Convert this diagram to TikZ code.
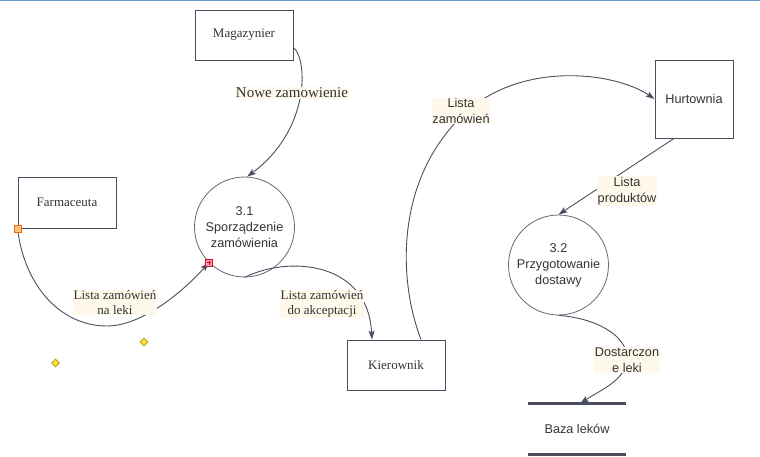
\documentclass[tikz,border=0pt]{standalone}
\usepackage{fontspec}
\setmainfont{Liberation Serif}
\setsansfont{Liberation Sans}
\usetikzlibrary{arrows.meta,calc,shapes.geometric}
\definecolor{ln}{HTML}{4A4E5E}
\definecolor{lbg}{HTML}{FFF9EC}
\definecolor{txt}{HTML}{333333}
\definecolor{topblue}{HTML}{6A96C8}
\definecolor{orbord}{HTML}{E8700A}
\definecolor{orfill}{HTML}{FFC27A}
\definecolor{rdbord}{HTML}{D0102A}
\definecolor{rdfill}{HTML}{FF9AAA}
\definecolor{ylfill}{HTML}{FFE040}
\definecolor{ylbord}{HTML}{B89400}
\begin{document}
\begin{tikzpicture}[x=1pt,y=-1pt,
  extbox/.style={draw=ln, line width=0.9pt, minimum width=98pt, minimum height=50pt,
    inner sep=0pt, text=txt, font=\fontsize{13}{15}\selectfont},
  procc/.style={circle, draw=ln!85, line width=0.8pt, minimum size=100pt, inner sep=0pt,
    align=center, text=txt, font=\sffamily\fontsize{12.7}{16}\selectfont},
  flow/.style={draw=ln, line width=0.9pt, -{Stealth[length=9pt,width=6pt,inset=2pt]}},
  labs/.style={fill=lbg, inner sep=0.6pt, align=center, text=txt,
    font=\sffamily\fontsize{12.7}{16}\selectfont},
  labr/.style={fill=lbg, inner sep=0.6pt, align=center, text=txt,
    font=\fontsize{13}{15}\selectfont},
  ymark/.style={diamond, draw=ylbord, fill=ylfill, line width=0.6pt,
    minimum width=8pt, minimum height=8pt, inner sep=0pt}
]
\useasboundingbox (0,0) rectangle (760,457);
\draw[topblue, line width=1.5pt] (0,0.75) -- (760,0.75);

% entities
\node[extbox] (mag) at (244,35) {Magazynier};
\node[extbox, minimum height=51pt] (farm) at (67,202.5) {Farmaceuta};
\node[extbox] (kier) at (396,365) {Kierownik};
\node[extbox, minimum width=78pt, minimum height=78pt, font=\sffamily\fontsize{12.7}{16}\selectfont] (hurt) at (694,99) {Hurtownia};

% processes
\node[procc] (c31) at (244.5,227) {3.1\\Sporządzenie\\zamówienia};
\node[procc] (c32) at (558.5,265) {3.2\\Przygotowanie\\dostawy};

% data store
\node[minimum width=98pt, minimum height=50pt, inner sep=0pt, text=txt,
  font=\sffamily\fontsize{12.7}{16}\selectfont] (baza) at (577,429) {Baza leków};
\draw[ln, line width=3pt] (baza.north west) -- (baza.north east);
\draw[ln, line width=3pt] (baza.south west) -- (baza.south east);

% flows
\draw[flow] (mag.-14) .. controls (308,60) and (310,130) .. (c31.87);
\draw[flow] (farm.south west) .. controls (24,285) and (60,326) .. (107,326)
  .. controls (140,326) and (180,295) .. (c31.-135);
\draw[flow] (c31.south) .. controls (290,255) and (368,262) .. ($(kier.north)+(-24,0)$);
\draw[flow] ($(kier.north)+(25,0)$) .. controls (398,280) and (395,180) .. (463,115)
  .. controls (520,60) and (615,72) .. (hurt.west);
\draw[flow] ($(hurt.south)+(-20,0)$) -- (c32.north);
\draw[flow] (c32.south) .. controls (595,318) and (627,335) .. (627,358)
  .. controls (627,380) and (600,390) .. ($(baza.north)+(3,0)$);

% labels
\node[labr, font=\fontsize{15}{17}\selectfont] (l1) at (292,93) {Nowe zamowienie};
\node[labr] (l2) at (115,302.5) {Lista zamówień\\na leki};
\node[labr] (l3) at (322,304) {Lista zamówień\\do akceptacji};
\node[labs] (l4) at (461,111) {Lista\\zamówień};
\node[labs] (l5) at (627,191) {Lista\\produktów};
\node[labs] (l6) at (627,360) {Dostarczon\\e leki};

% markers
\node[draw=orbord, fill=orfill, line width=0.7pt, minimum size=7pt, inner sep=0pt] (mo) at (farm.south west) {};
\node[draw=rdbord, fill=rdfill, line width=0.7pt, minimum size=7pt, inner sep=0pt] (mr) at (c31.-135) {};
\draw[rdbord, line width=0.7pt] ($(mr.center)+(-2,0)$) -- ($(mr.center)+(2,0)$);
\draw[rdbord, line width=0.7pt] ($(mr.center)+(0,-2)$) -- ($(mr.center)+(0,2)$);
\node[ymark] (d1) at (144,342) {};
\node[ymark] (d2) at (55.5,363) {};
\end{tikzpicture}
\end{document}
